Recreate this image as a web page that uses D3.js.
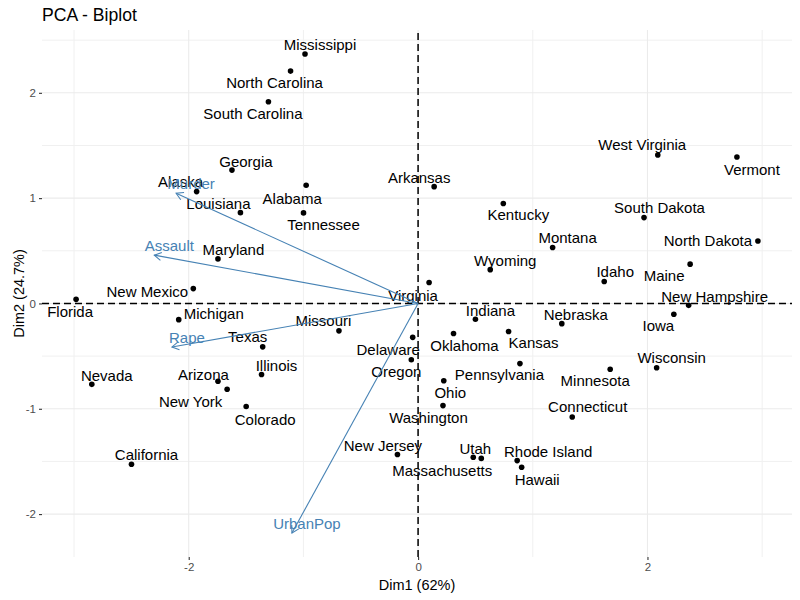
<!DOCTYPE html>
<html>
<head>
    <meta charset="utf-8">
    <title>PCA - Biplot</title>
</head>
<body style="margin:0;">
<style type="text/css">
    #renderer {
        width: 800px;
        height: 600px;
        background: #fff;
        display: block;
    }
    text { font-family: "Liberation Sans", Arial, sans-serif; }
</style>
<script type="text/javascript" src="https://cdnjs.cloudflare.com/ajax/libs/d3/7.8.5/d3.min.js"></script>
<svg id='renderer'></svg>

<script type="text/javascript">
    // 1. data
    var states = ['Alabama', 'Alaska', 'Arizona', 'Arkansas', 'California', 'Colorado', 'Connecticut',
        'Delaware', 'Florida', 'Georgia', 'Hawaii', 'Idaho', 'Illinois', 'Indiana', 'Iowa', 'Kansas',
        'Kentucky', 'Louisiana', 'Maine', 'Maryland', 'Massachusetts', 'Michigan', 'Minnesota',
        'Mississippi', 'Missouri', 'Montana', 'Nebraska', 'Nevada', 'New Hampshire', 'New Jersey',
        'New Mexico', 'New York', 'North Carolina', 'North Dakota', 'Ohio', 'Oklahoma', 'Oregon',
        'Pennsylvania', 'Rhode Island', 'South Carolina', 'South Dakota', 'Tennessee', 'Texas', 'Utah',
        'Vermont', 'Virginia', 'Washington', 'West Virginia', 'Wisconsin', 'Wyoming'];
    var dim1 = [-0.976, -1.931, -1.745, 0.140, -2.499, -1.499, 1.344,
        -0.047, -2.982, -1.623, 0.903, 1.623, -1.365, 0.500, 2.230, 0.789,
        0.743, -1.549, 2.372, -1.745, 0.481, -2.087, 1.675,
        -0.986, -0.690, 1.173, 1.253, -2.845, 2.359, -0.180,
        -1.960, -1.665, -1.112, 2.963, 0.224, 0.309, -0.059,
        0.888, 0.864, -1.305, 1.970, -0.999, -1.355, 0.551,
        2.780, 0.096, 0.217, 2.090, 2.080, 0.629];
    var dim2 = [1.122, 1.062, -0.738, 1.109, -1.527, -0.978, -1.078,
        -0.322, 0.039, 1.266, -1.555, 0.208, -0.675, -0.150, -0.103, -0.267,
        0.949, 0.862, 0.373, 0.423, -1.460, -0.154, -0.625,
        2.369, -0.260, 0.531, -0.192, -0.768, -0.018, -1.434,
        0.141, -0.815, 2.206, 0.593, -0.734, -0.285, -0.535,
        -0.571, -1.492, 1.915, 0.815, 0.860, -0.412, -1.471,
        1.390, 0.199, -0.970, 1.410, -0.611, 0.321];

    var variables = ['Murder', 'Assault', 'UrbanPop', 'Rape'];
    var varDim1 = [-2.11, -2.30, -1.10, -2.146];
    var varDim2 = [1.046, 0.459, -2.18, -0.413];

    var xTicks = [-2, 0, 2];
    var yTicks = [-2, -1, 0, 1, 2];

    // label offsets (px) as placed by repel in the original
    var labelShift = {
        'Mississippi': [15, -9], 'North Carolina': [-16, 11], 'South Carolina': [-15.5, 12],
        'Georgia': [14, -9], 'Alaska': [-16, -10], 'Alabama': [-14, 13], 'Arkansas': [-15, -9],
        'West Virginia': [-15.5, -10], 'Vermont': [15, 13], 'Louisiana': [-22, -9],
        'Tennessee': [20, 12], 'Maryland': [15.5, -9], 'New Mexico': [-46, 3], 'Florida': [-6, 12],
        'Michigan': [35, -6], 'Missouri': [-15.5, -10], 'Texas': [-15, -10], 'Nevada': [15, -9],
        'Arizona': [-14.5, -7], 'Illinois': [15, -9], 'New York': [-36.5, 12], 'Colorado': [19, 13.5],
        'Delaware': [-24.5, 12], 'Oregon': [-15, 12], 'Kentucky': [15, 11], 'South Dakota': [15.5, -10],
        'Montana': [15, -10], 'North Dakota': [-50, 0], 'Wyoming': [15, -9], 'Idaho': [11, -10],
        'Maine': [-26, 11], 'Virginia': [-16, 13], 'New Hampshire': [26, -9], 'Indiana': [15, -9],
        'Nebraska': [14, -9], 'Iowa': [-15.5, 11], 'Oklahoma': [11, 12], 'Kansas': [25, 11],
        'Wisconsin': [15, -10.5], 'Minnesota': [-15, 11], 'Pennsylvania': [-20.5, 11], 'Ohio': [6.5, 12],
        'Washington': [-14.5, 11.5], 'Connecticut': [15.5, -10.5], 'New Jersey': [-14.5, -8.5],
        'Utah': [-6, -10], 'Massachusetts': [-31, 13], 'Rhode Island': [31, -9], 'Hawaii': [15.5, 12],
        'California': [15, -10]
    };

    // 2. layout
    var total_width = 800;
    var total_height = 600;
    var margin = {top: 30, right: 8, bottom: 43, left: 42};
    var plot_width = total_width - margin.left - margin.right;
    var plot_height = total_height - margin.top - margin.bottom;

    var root = d3.select('#renderer');
    var steel = '#4682B4';

    var allX = dim1.concat(varDim1);
    var allY = dim2.concat(varDim2);
    var xExt = d3.extent(allX), yExt = d3.extent(allY);
    var xPad = (xExt[1] - xExt[0]) * 0.05, yPad = (yExt[1] - yExt[0]) * 0.05;

    var x = d3.scaleLinear().domain([xExt[0] - xPad, xExt[1] + xPad]).range([margin.left, margin.left + plot_width]);
    var y = d3.scaleLinear().domain([yExt[0] - yPad, yExt[1] + yPad]).range([margin.top + plot_height, margin.top]);

    // grid
    var grid = root.append('g');
    var xMinor = [-3, -1, 1, 3].filter(function (v) { return v > x.domain()[0] && v < x.domain()[1]; });
    var yMinor = [-2.5, -1.5, -0.5, 0.5, 1.5, 2.5].filter(function (v) { return v > y.domain()[0] && v < y.domain()[1]; });

    grid.selectAll('.xminor').data(xMinor).enter().append('line')
        .attr('x1', function (d) { return x(d); }).attr('x2', function (d) { return x(d); })
        .attr('y1', y.range()[0]).attr('y2', y.range()[1])
        .attr('stroke', '#f0f0f0').attr('stroke-width', 1);
    grid.selectAll('.yminor').data(yMinor).enter().append('line')
        .attr('y1', function (d) { return y(d); }).attr('y2', function (d) { return y(d); })
        .attr('x1', x.range()[0]).attr('x2', x.range()[1])
        .attr('stroke', '#f0f0f0').attr('stroke-width', 1);
    grid.selectAll('.xmajor').data(xTicks).enter().append('line')
        .attr('x1', function (d) { return x(d); }).attr('x2', function (d) { return x(d); })
        .attr('y1', y.range()[0]).attr('y2', y.range()[1])
        .attr('stroke', '#ebebeb').attr('stroke-width', 1.1);
    grid.selectAll('.ymajor').data(yTicks).enter().append('line')
        .attr('y1', function (d) { return y(d); }).attr('y2', function (d) { return y(d); })
        .attr('x1', x.range()[0]).attr('x2', x.range()[1])
        .attr('stroke', '#ebebeb').attr('stroke-width', 1.1);

    // axes
    var fmt = function (d) { return String(d); };
    var xAxis = d3.axisBottom(x).tickValues(xTicks).tickSize(3).tickPadding(3).tickFormat(fmt);
    var yAxis = d3.axisLeft(y).tickValues(yTicks).tickSize(3).tickPadding(3).tickFormat(fmt);
    var gx = root.append('g').attr('transform', 'translate(0,' + (margin.top + plot_height) + ')').call(xAxis);
    var gy = root.append('g').attr('transform', 'translate(' + margin.left + ',0)').call(yAxis);
    [gx, gy].forEach(function (g) {
        g.select('.domain').remove();
        g.selectAll('.tick line').attr('stroke', '#333').attr('stroke-width', 1.1);
        g.selectAll('.tick text').attr('fill', '#4d4d4d').attr('font-size', '11.5px')
            .attr('font-family', '"Liberation Sans", Arial, sans-serif');
    });

    // zero lines
    root.append('line')
        .attr('x1', x(0)).attr('x2', x(0)).attr('y1', y.range()[0]).attr('y2', y.range()[1])
        .attr('stroke', '#000').attr('stroke-width', 1.5).attr('stroke-dasharray', '7,4');
    root.append('line')
        .attr('y1', y(0)).attr('y2', y(0)).attr('x1', x.range()[0]).attr('x2', x.range()[1])
        .attr('stroke', '#000').attr('stroke-width', 1.5).attr('stroke-dasharray', '7,4');

    // individuals
    root.selectAll('.pt').data(states).enter().append('circle')
        .attr('cx', function (d, i) { return x(dim1[i]); })
        .attr('cy', function (d, i) { return y(dim2[i]); })
        .attr('r', 2.8)
        .attr('fill', '#000');

    root.selectAll('.lab').data(states).enter().append('text')
        .attr('x', function (d, i) { return x(dim1[i]) + labelShift[d][0]; })
        .attr('y', function (d, i) { return y(dim2[i]) + labelShift[d][1]; })
        .attr('dy', '0.36em')
        .attr('text-anchor', 'middle')
        .attr('font-size', '15px')
        .attr('fill', '#000')
        .text(function (d) { return d; });

    // variables (arrows)
    var arrowLen = 8, arrowAng = Math.PI / 6;
    variables.forEach(function (v, i) {
        var x0 = x(0), y0 = y(0), x1 = x(varDim1[i]), y1 = y(varDim2[i]);
        root.append('line')
            .attr('x1', x0).attr('y1', y0).attr('x2', x1).attr('y2', y1)
            .attr('stroke', steel).attr('stroke-width', 1.1);
        var a = Math.atan2(y0 - y1, x0 - x1);
        var pts = [[x1 + arrowLen * Math.cos(a + arrowAng), y1 + arrowLen * Math.sin(a + arrowAng)],
            [x1, y1],
            [x1 + arrowLen * Math.cos(a - arrowAng), y1 + arrowLen * Math.sin(a - arrowAng)]];
        root.append('path')
            .attr('d', d3.line()(pts))
            .attr('fill', 'none')
            .attr('stroke', steel).attr('stroke-width', 1.1);
        root.append('text')
            .attr('x', x1 + 15).attr('y', y1 - 9.5)
            .attr('dy', '0.36em')
            .attr('text-anchor', 'middle')
            .attr('font-size', '15px')
            .attr('fill', steel)
            .text(v);
    });

    // titles
    root.append('text')
        .attr('x', margin.left).attr('y', 21)
        .attr('font-size', '17.6px').attr('fill', '#000')
        .text('PCA - Biplot');
    root.append('text')
        .attr('x', margin.left + plot_width / 2).attr('y', 590)
        .attr('text-anchor', 'middle')
        .attr('font-size', '14.5px').attr('fill', '#000')
        .text('Dim1 (62%)');
    root.append('text')
        .attr('transform', 'translate(19,' + (margin.top + plot_height / 2) + ') rotate(-90)')
        .attr('dy', '0.36em')
        .attr('text-anchor', 'middle')
        .attr('font-size', '14.5px').attr('fill', '#000')
        .text('Dim2 (24.7%)');
</script>
</body>
</html>
